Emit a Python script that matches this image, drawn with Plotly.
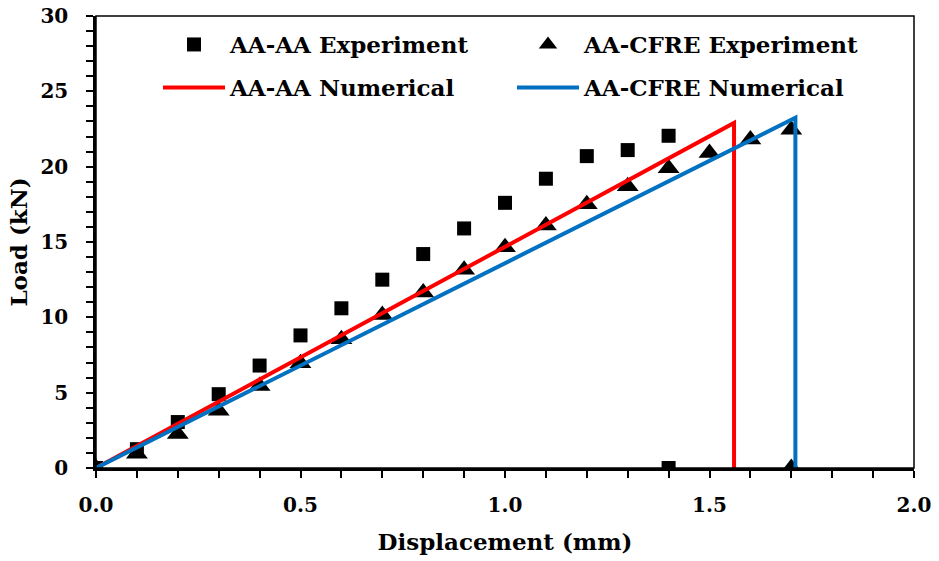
import plotly.graph_objects as go

# Measured load-displacement data
aa_aa_disp = [0.0, 0.1, 0.2, 0.3, 0.4, 0.5, 0.6, 0.7, 0.8, 0.9, 1.0, 1.1, 1.2, 1.3, 1.4, 1.4]
aa_aa_load = [0.0, 1.25, 3.05, 4.9, 6.8, 8.8, 10.6, 12.5, 14.2, 15.9, 17.6, 19.2, 20.7, 21.1, 22.05, 0.0]

aa_cfre_disp = [0.0, 0.1, 0.2, 0.3, 0.4, 0.5, 0.6, 0.7, 0.8, 0.9, 1.0, 1.1, 1.2, 1.3, 1.4, 1.5, 1.6, 1.7, 1.7]
aa_cfre_load = [0.0, 0.95, 2.25, 3.8, 5.45, 6.95, 8.55, 10.15, 11.65, 13.15, 14.65, 16.1, 17.5, 18.7, 19.9, 20.9, 21.8, 22.45, 0.0]

# Numerical predictions: linear rise to peak load, then sudden failure
num_aa_aa_disp = [0.0, 1.56, 1.56]
num_aa_aa_load = [0.0, 22.9, 0.0]
num_aa_cfre_disp = [0.0, 1.71, 1.71]
num_aa_cfre_load = [0.0, 23.25, 0.0]

x_ticks = [0.0, 0.5, 1.0, 1.5, 2.0]
x_tick_text = ["0.0", "0.5", "1.0", "1.5", "2.0"]
y_ticks = [0, 5, 10, 15, 20, 25, 30]

FONT = "DejaVu Serif"

fig = go.Figure()
fig.add_trace(go.Scatter(
    x=aa_aa_disp, y=aa_aa_load, mode="markers", name="AA-AA Experiment",
    marker=dict(symbol="square", size=14, color="black"), legend="legend",
))
fig.add_trace(go.Scatter(
    x=aa_cfre_disp, y=aa_cfre_load, mode="markers", name="AA-CFRE Experiment",
    marker=dict(symbol="triangle-up", size=19, color="black"), legend="legend",
))
fig.add_trace(go.Scatter(
    x=num_aa_aa_disp, y=num_aa_aa_load, mode="lines", name="AA-AA Numerical",
    line=dict(color="#ff0000", width=4), legend="legend2",
))
fig.add_trace(go.Scatter(
    x=num_aa_cfre_disp, y=num_aa_cfre_load, mode="lines", name="AA-CFRE Numerical",
    line=dict(color="#0070c0", width=4), legend="legend2",
))

axis_common = dict(
    showgrid=False, zeroline=False, showline=True, linecolor="black", linewidth=2.5,
    ticks="outside", ticklen=7, tickwidth=2, tickcolor="black",
    tickfont=dict(family=FONT, size=20, color="black", weight="bold"),
    title_font=dict(family=FONT, size=23, color="black", weight="bold"),
    automargin=False,
)

fig.update_xaxes(
    range=[0, 2.0], tickvals=x_ticks, ticktext=x_tick_text,
    minor=dict(dtick=0.1, ticks="outside", ticklen=7, tickwidth=2, tickcolor="black"),
    ticklabelstandoff=10,
    title_text="Displacement (mm)", title_standoff=19,
    **axis_common,
)
fig.update_yaxes(
    range=[0, 30], tickvals=y_ticks,
    minor=dict(dtick=1, ticks="outside", ticklen=7, tickwidth=2, tickcolor="black"),
    ticklabelstandoff=14,
    title_text="Load (kN)", title_standoff=7,
    **axis_common,
)

# Thin frame on the top and right of the plot area
fig.add_shape(type="rect", xref="paper", yref="paper", x0=0, y0=0, x1=1, y1=1,
              line=dict(color="black", width=1.5), layer="above")

legend_common = dict(
    orientation="h", x=(158 - 96) / 818, xanchor="left", yanchor="top",
    entrywidth=277, entrywidthmode="pixels", itemwidth=62,
    font=dict(family=FONT, size=23, color="black", weight="bold"),
    bgcolor="rgba(0,0,0,0)", traceorder="normal",
)

fig.update_layout(
    width=939, height=561,
    margin=dict(l=96, r=25, t=16, b=93, autoexpand=False),
    plot_bgcolor="white", paper_bgcolor="white",
    font=dict(family=FONT, color="black"),
    legend=dict(y=1 - 7 / 452, **legend_common),
    legend2=dict(y=1 - 50 / 452, **legend_common),
)

fig.write_html("out.html")
